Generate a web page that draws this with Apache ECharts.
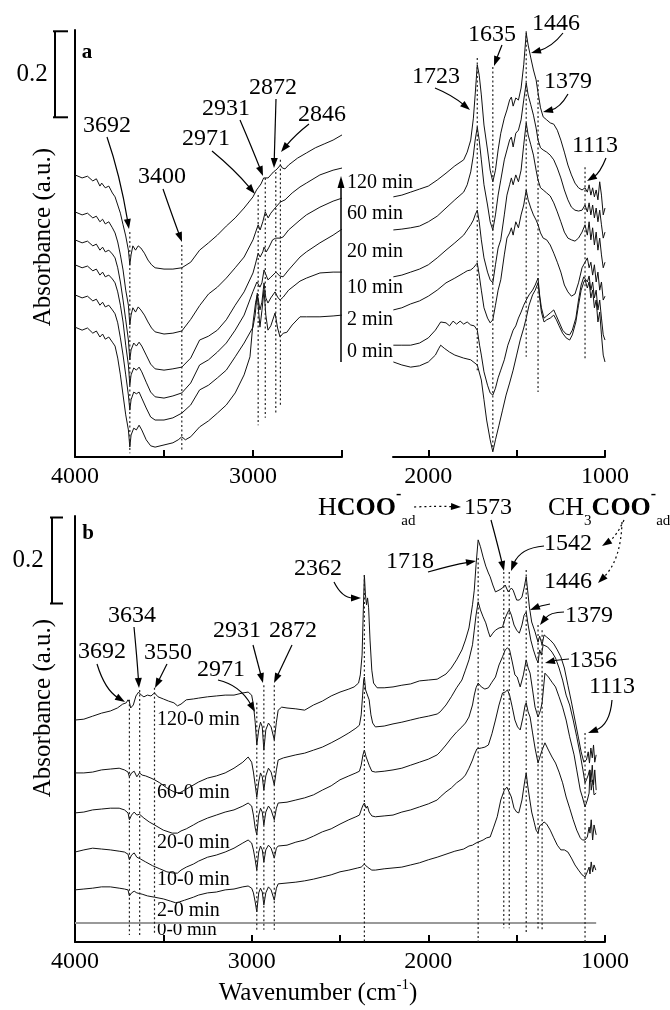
<!DOCTYPE html>
<html>
<head>
<meta charset="utf-8">
<script src="https://cdn.jsdelivr.net/npm/echarts@6/dist/echarts.min.js"></script>
<style>
  html, body { margin: 0; padding: 0; background: #fff; }
  #main { width: 670px; height: 1010px; }
</style>
</head>
<body>
<div id="main"></div>
<script>
// ---- spectra, panel a (absorbance) ----
// left part 4000-2500 cm-1
var aL120 = [[4000,.656],[3960,.649],[3930,.653],[3900,.642],[3880,.647],[3860,.630],[3850,.637],[3830,.626],[3810,.630],[3790,.614],[3775,.605],[3760,.586],[3745,.567],[3730,.540],[3715,.514],[3700,.481],[3692,.447],[3685,.470],[3675,.491],[3660,.481],[3645,.491],[3630,.486],[3610,.474],[3590,.458],[3570,.447],[3550,.440],[3500,.437],[3450,.437],[3400,.440],[3350,.453],[3300,.481],[3250,.498],[3200,.516],[3150,.537],[3100,.556],[3050,.579],[3000,.605],[2980,.621],[2971,.626],[2955,.635],[2940,.649],[2931,.651],[2915,.649],[2900,.656],[2885,.663],[2872,.667],[2860,.672],[2846,.679],[2835,.672],[2820,.670],[2800,.679],[2750,.695],[2700,.707],[2650,.719],[2600,.728],[2550,.737],[2500,.749]];
var aL60 = [[4000,.570],[3960,.563],[3930,.567],[3900,.556],[3880,.560],[3860,.547],[3845,.553],[3830,.542],[3810,.547],[3790,.533],[3775,.521],[3760,.500],[3745,.470],[3730,.435],[3715,.388],[3700,.353],[3692,.307],[3685,.330],[3675,.347],[3660,.337],[3645,.349],[3630,.342],[3610,.330],[3590,.314],[3570,.300],[3550,.291],[3500,.286],[3450,.288],[3400,.293],[3350,.320],[3300,.352],[3250,.379],[3200,.395],[3150,.416],[3100,.440],[3050,.465],[3000,.505],[2985,.523],[2971,.540],[2960,.528],[2945,.547],[2931,.570],[2915,.556],[2900,.567],[2872,.581],[2846,.593],[2820,.598],[2780,.614],[2736,.628],[2700,.637],[2624,.656],[2550,.667],[2500,.672]];
var aL20 = [[4000,.505],[3960,.498],[3930,.502],[3900,.491],[3880,.495],[3860,.481],[3845,.488],[3830,.477],[3810,.481],[3790,.472],[3775,.463],[3760,.440],[3745,.407],[3730,.365],[3715,.319],[3700,.272],[3692,.226],[3685,.249],[3670,.265],[3655,.258],[3640,.267],[3625,.258],[3600,.237],[3575,.216],[3550,.205],[3500,.202],[3450,.205],[3400,.209],[3350,.230],[3300,.272],[3250,.281],[3200,.295],[3150,.319],[3100,.353],[3050,.384],[3000,.428],[2985,.451],[2971,.474],[2960,.465],[2945,.477],[2938,.488],[2925,.477],[2910,.488],[2890,.505],[2872,.509],[2846,.509],[2830,.512],[2800,.528],[2736,.551],[2700,.563],[2624,.581],[2550,.595],[2500,.602]];
var aL10 = [[4000,.447],[3960,.440],[3930,.444],[3900,.433],[3880,.437],[3860,.423],[3845,.430],[3830,.419],[3810,.423],[3790,.414],[3775,.405],[3760,.384],[3745,.353],[3730,.314],[3715,.260],[3700,.214],[3692,.167],[3685,.191],[3670,.207],[3655,.202],[3640,.209],[3625,.198],[3600,.174],[3575,.151],[3550,.140],[3500,.137],[3450,.142],[3400,.149],[3350,.172],[3300,.214],[3250,.226],[3200,.244],[3150,.265],[3100,.295],[3050,.330],[3000,.385],[2978,.407],[2961,.395],[2950,.405],[2938,.435],[2916,.412],[2900,.418],[2871,.430],[2850,.421],[2831,.419],[2800,.435],[2736,.465],[2700,.477],[2624,.498],[2550,.516],[2500,.530]];
var aL2 = [[4000,.377],[3960,.370],[3930,.374],[3900,.363],[3880,.367],[3860,.353],[3845,.360],[3830,.349],[3810,.353],[3790,.342],[3775,.333],[3760,.312],[3745,.277],[3730,.237],[3715,.191],[3700,.144],[3692,.109],[3685,.133],[3670,.151],[3655,.147],[3640,.151],[3625,.137],[3600,.114],[3575,.093],[3550,.086],[3500,.086],[3450,.091],[3400,.102],[3350,.121],[3300,.156],[3250,.167],[3200,.184],[3150,.202],[3100,.233],[3050,.265],[3000,.302],[2988,.330],[2976,.381],[2961,.342],[2950,.360],[2938,.405],[2928,.370],[2916,.358],[2900,.370],[2876,.384],[2862,.372],[2848,.365],[2830,.372],[2800,.388],[2736,.409],[2700,.416],[2624,.428],[2550,.430],[2500,.430]];
var aL0 = [[4000,.302],[3960,.295],[3930,.300],[3900,.288],[3880,.293],[3860,.279],[3845,.286],[3830,.274],[3810,.279],[3790,.267],[3775,.258],[3760,.230],[3745,.191],[3730,.144],[3715,.098],[3700,.063],[3692,.023],[3685,.051],[3670,.067],[3655,.063],[3640,.074],[3625,.063],[3600,.040],[3575,.026],[3550,.023],[3500,.028],[3450,.033],[3420,.040],[3400,.047],[3380,.040],[3350,.047],[3300,.070],[3250,.084],[3200,.102],[3150,.121],[3100,.149],[3050,.191],[3017,.233],[3000,.312],[2985,.360],[2976,.377],[2961,.302],[2950,.340],[2938,.388],[2928,.330],[2916,.295],[2900,.305],[2876,.335],[2862,.300],[2848,.279],[2830,.288],[2810,.290],[2780,.307],[2736,.326],[2700,.326],[2624,.326],[2550,.328],[2500,.330]];
// right part 2200-1000 cm-1
var aR120 = [[2198,.605],[2150,.609],[2100,.616],[2050,.623],[2000,.630],[1950,.644],[1900,.660],[1850,.677],[1800,.691],[1780,.709],[1760,.737],[1745,.788],[1735,.842],[1723,.912],[1712,.888],[1700,.842],[1685,.772],[1665,.714],[1650,.667],[1635,.640],[1620,.667],[1605,.714],[1590,.753],[1570,.788],[1555,.807],[1540,.830],[1530,.837],[1520,.816],[1505,.835],[1490,.830],[1475,.858],[1460,.912],[1446,.986],[1435,.958],[1420,.928],[1405,.900],[1390,.877],[1379,.847],[1365,.812],[1350,.791],[1330,.784],[1310,.777],[1290,.774],[1270,.760],[1250,.737],[1230,.709],[1210,.679],[1190,.656],[1170,.637],[1150,.626],[1130,.621],[1113,.626],[1100,.616],[1090,.633],[1080,.609],[1070,.626],[1060,.605],[1050,.621],[1040,.598],[1030,.640],[1020,.609],[1010,.563],[1000,.579]];
var aR60 = [[2198,.528],[2150,.530],[2100,.533],[2050,.537],[2000,.547],[1950,.560],[1900,.579],[1850,.598],[1800,.616],[1780,.633],[1760,.663],[1745,.702],[1735,.737],[1723,.767],[1712,.737],[1700,.691],[1685,.633],[1665,.586],[1650,.547],[1635,.528],[1620,.563],[1605,.609],[1590,.644],[1570,.691],[1555,.714],[1540,.737],[1530,.744],[1520,.721],[1505,.753],[1490,.760],[1475,.784],[1460,.830],[1446,.870],[1435,.842],[1420,.819],[1405,.795],[1390,.765],[1379,.737],[1365,.719],[1350,.714],[1330,.709],[1310,.702],[1290,.691],[1270,.672],[1250,.649],[1230,.621],[1210,.598],[1190,.581],[1170,.574],[1150,.572],[1130,.574],[1113,.586],[1100,.570],[1090,.591],[1080,.563],[1070,.586],[1060,.556],[1050,.579],[1040,.547],[1030,.574],[1020,.540],[1010,.509],[1000,.523]];
var aR20 = [[2198,.419],[2150,.423],[2100,.430],[2050,.437],[2000,.447],[1950,.463],[1900,.481],[1850,.498],[1800,.516],[1780,.528],[1760,.540],[1745,.551],[1735,.563],[1723,.574],[1712,.547],[1700,.505],[1685,.463],[1665,.430],[1650,.412],[1635,.405],[1620,.447],[1605,.486],[1590,.505],[1570,.563],[1555,.609],[1540,.633],[1530,.649],[1520,.633],[1505,.656],[1490,.640],[1475,.667],[1460,.726],[1446,.777],[1435,.749],[1420,.726],[1405,.702],[1390,.667],[1379,.644],[1365,.626],[1350,.621],[1330,.614],[1310,.607],[1290,.591],[1270,.570],[1250,.547],[1230,.523],[1210,.509],[1190,.505],[1170,.502],[1150,.509],[1130,.523],[1113,.540],[1100,.516],[1090,.547],[1080,.505],[1070,.533],[1060,.493],[1050,.523],[1040,.481],[1030,.509],[1020,.470],[1010,.440],[1000,.453]];
var aR10 = [[2198,.342],[2150,.347],[2100,.356],[2050,.363],[2000,.374],[1950,.388],[1900,.405],[1850,.416],[1800,.428],[1780,.433],[1760,.435],[1745,.440],[1735,.444],[1723,.451],[1712,.423],[1700,.388],[1685,.347],[1665,.323],[1650,.312],[1635,.319],[1620,.353],[1605,.388],[1590,.412],[1570,.470],[1555,.509],[1540,.521],[1530,.533],[1520,.516],[1505,.547],[1490,.533],[1475,.563],[1460,.586],[1446,.621],[1435,.598],[1420,.579],[1405,.563],[1390,.551],[1379,.540],[1365,.521],[1350,.509],[1330,.505],[1310,.493],[1290,.474],[1270,.453],[1250,.430],[1230,.400],[1210,.384],[1190,.374],[1170,.379],[1150,.405],[1130,.440],[1113,.453],[1100,.463],[1090,.440],[1080,.453],[1070,.423],[1060,.447],[1050,.407],[1040,.430],[1030,.388],[1020,.407],[1010,.365],[1000,.374]];
var aR2 = [[2198,.260],[2150,.260],[2100,.260],[2050,.265],[2000,.277],[1960,.295],[1930,.314],[1900,.312],[1880,.305],[1860,.316],[1840,.309],[1820,.316],[1800,.309],[1780,.314],[1760,.307],[1740,.305],[1723,.295],[1710,.260],[1700,.237],[1685,.198],[1665,.167],[1650,.149],[1635,.144],[1620,.160],[1605,.184],[1590,.202],[1570,.226],[1550,.260],[1535,.277],[1520,.295],[1505,.305],[1490,.323],[1475,.337],[1460,.353],[1446,.365],[1430,.377],[1410,.388],[1395,.400],[1379,.416],[1370,.377],[1360,.347],[1345,.323],[1330,.328],[1310,.335],[1290,.342],[1275,.328],[1260,.314],[1240,.295],[1220,.286],[1200,.284],[1185,.295],[1165,.323],[1150,.365],[1135,.400],[1120,.419],[1113,.423],[1100,.407],[1090,.421],[1080,.388],[1070,.407],[1060,.370],[1050,.388],[1040,.342],[1030,.365],[1020,.323],[1010,.284],[1000,.272]];
var aR0 = [[2198,.221],[2150,.214],[2100,.209],[2050,.212],[2000,.221],[1960,.237],[1940,.253],[1930,.260],[1910,.253],[1880,.244],[1850,.237],[1800,.230],[1760,.226],[1723,.214],[1700,.179],[1685,.133],[1670,.086],[1650,.040],[1635,.012],[1620,.040],[1600,.074],[1580,.109],[1560,.144],[1540,.172],[1520,.202],[1500,.237],[1480,.272],[1460,.300],[1446,.323],[1430,.353],[1410,.377],[1395,.388],[1379,.405],[1370,.370],[1360,.337],[1345,.314],[1330,.319],[1310,.323],[1290,.330],[1275,.319],[1260,.305],[1240,.288],[1220,.277],[1200,.272],[1185,.284],[1165,.314],[1150,.353],[1135,.388],[1120,.407],[1113,.412],[1100,.393],[1090,.407],[1080,.370],[1070,.388],[1060,.347],[1050,.365],[1040,.314],[1030,.337],[1020,.284],[1010,.237],[1000,.221]];

// ---- difference spectra, panel b ----
var b120 = [[4000,.472],[3950,.474],[3900,.481],[3850,.488],[3800,.493],[3760,.500],[3730,.509],[3710,.512],[3700,.519],[3692,.514],[3685,.500],[3670,.507],[3655,.528],[3640,.537],[3625,.530],[3610,.526],[3590,.530],[3570,.528],[3550,.535],[3530,.526],[3500,.521],[3470,.516],[3440,.512],[3420,.505],[3400,.509],[3370,.519],[3330,.521],[3300,.523],[3250,.526],[3200,.528],[3150,.530],[3100,.530],[3050,.535],[3020,.537],[3000,.530],[2990,.507],[2980,.467],[2971,.414],[2960,.449],[2950,.467],[2940,.456],[2931,.402],[2920,.449],[2905,.465],[2890,.456],[2872,.426],[2860,.467],[2850,.495],[2830,.502],[2800,.500],[2750,.498],[2700,.495],[2650,.507],[2600,.516],[2550,.528],[2500,.537],[2450,.544],[2420,.549],[2395,.558],[2385,.577],[2375,.623],[2368,.728],[2362,.809],[2356,.763],[2350,.740],[2344,.756],[2338,.733],[2330,.658],[2320,.588],[2310,.558],[2290,.547],[2250,.547],[2200,.549],[2150,.553],[2100,.556],[2050,.563],[2000,.565],[1950,.567],[1900,.579],[1870,.593],[1840,.612],[1810,.635],[1790,.658],[1770,.686],[1750,.740],[1740,.774],[1730,.833],[1718,.891],[1705,.875],[1690,.851],[1675,.830],[1660,.814],[1650,.805],[1635,.786],[1620,.770],[1600,.774],[1580,.779],[1565,.786],[1548,.770],[1530,.779],[1520,.774],[1500,.751],[1485,.751],[1470,.758],[1458,.779],[1446,.805],[1438,.774],[1428,.735],[1415,.700],[1396,.677],[1379,.653],[1370,.667],[1356,.647],[1345,.670],[1330,.665],[1310,.658],[1290,.649],[1270,.635],[1250,.619],[1230,.593],[1210,.553],[1190,.514],[1170,.472],[1150,.430],[1135,.398],[1120,.374],[1113,.370],[1105,.379],[1095,.398],[1088,.372],[1080,.407],[1072,.384],[1065,.414],[1058,.374],[1050,.391]];
var b60 = [[4000,.349],[3950,.349],[3900,.351],[3850,.356],[3800,.358],[3750,.360],[3720,.356],[3700,.351],[3692,.340],[3680,.349],[3665,.353],[3650,.340],[3635,.349],[3620,.344],[3600,.342],[3570,.337],[3550,.333],[3520,.326],[3480,.314],[3440,.305],[3410,.302],[3380,.309],[3350,.316],[3300,.328],[3250,.337],[3200,.342],[3150,.349],[3100,.360],[3050,.374],[3020,.386],[3000,.374],[2990,.351],[2980,.321],[2971,.293],[2960,.328],[2950,.349],[2940,.340],[2931,.309],[2920,.342],[2905,.360],[2890,.351],[2872,.321],[2860,.356],[2850,.379],[2820,.384],[2800,.386],[2750,.391],[2700,.395],[2650,.402],[2600,.409],[2550,.419],[2500,.430],[2450,.442],[2410,.453],[2390,.460],[2380,.484],[2372,.530],[2366,.565],[2362,.572],[2355,.542],[2345,.542],[2335,.519],[2325,.484],[2315,.465],[2300,.456],[2250,.458],[2200,.463],[2150,.467],[2100,.472],[2050,.477],[2000,.481],[1950,.486],[1933,.491],[1900,.507],[1870,.526],[1840,.547],[1810,.565],[1790,.588],[1770,.612],[1750,.647],[1740,.681],[1730,.716],[1718,.747],[1705,.728],[1690,.712],[1675,.698],[1660,.677],[1650,.665],[1635,.674],[1620,.681],[1600,.686],[1580,.688],[1565,.709],[1550,.723],[1542,.728],[1530,.716],[1515,.693],[1500,.681],[1485,.674],[1470,.693],[1458,.716],[1446,.723],[1435,.693],[1420,.658],[1405,.635],[1390,.616],[1379,.605],[1370,.635],[1360,.623],[1350,.647],[1340,.651],[1325,.642],[1300,.630],[1280,.616],[1260,.593],[1240,.565],[1220,.530],[1200,.507],[1180,.472],[1160,.433],[1140,.391],[1125,.356],[1113,.326],[1105,.333],[1095,.344],[1088,.356],[1080,.328],[1072,.367],[1065,.321],[1058,.356],[1050,.309]];
var b20 = [[4000,.256],[3950,.258],[3900,.263],[3850,.265],[3800,.267],[3750,.267],[3720,.263],[3700,.256],[3692,.240],[3680,.251],[3665,.258],[3650,.251],[3635,.253],[3610,.244],[3580,.235],[3550,.228],[3500,.216],[3450,.209],[3420,.209],[3400,.214],[3370,.219],[3330,.228],[3300,.235],[3250,.244],[3200,.251],[3150,.258],[3100,.263],[3050,.272],[3020,.279],[3000,.272],[2990,.251],[2980,.221],[2971,.205],[2960,.251],[2950,.267],[2940,.258],[2931,.228],[2920,.258],[2905,.272],[2890,.263],[2872,.240],[2860,.267],[2850,.279],[2800,.281],[2750,.286],[2700,.291],[2650,.298],[2600,.309],[2550,.319],[2500,.333],[2450,.342],[2410,.349],[2390,.353],[2380,.367],[2370,.391],[2362,.402],[2352,.386],[2345,.386],[2335,.367],[2320,.353],[2300,.351],[2250,.353],[2200,.356],[2150,.360],[2100,.367],[2050,.374],[2000,.381],[1950,.391],[1933,.398],[1900,.414],[1870,.430],[1840,.444],[1810,.456],[1790,.465],[1770,.479],[1750,.507],[1740,.530],[1730,.547],[1718,.558],[1700,.549],[1680,.544],[1660,.547],[1640,.560],[1620,.572],[1600,.600],[1580,.619],[1565,.635],[1552,.640],[1540,.635],[1525,.607],[1510,.577],[1497,.572],[1480,.549],[1462,.577],[1446,.612],[1435,.593],[1424,.581],[1410,.542],[1396,.502],[1379,.479],[1365,.495],[1356,.512],[1340,.581],[1320,.572],[1300,.560],[1280,.549],[1260,.526],[1240,.502],[1220,.472],[1200,.433],[1175,.391],[1160,.356],[1140,.309],[1128,.293],[1113,.270],[1100,.286],[1090,.302],[1085,.356],[1078,.309],[1070,.333],[1062,.298],[1050,.302]];
var b10 = [[4000,.165],[3950,.170],[3900,.174],[3850,.172],[3800,.170],[3750,.167],[3720,.165],[3700,.160],[3692,.147],[3680,.158],[3665,.163],[3650,.153],[3630,.149],[3600,.142],[3560,.133],[3520,.126],[3480,.119],[3440,.116],[3420,.116],[3400,.123],[3370,.130],[3330,.137],[3300,.144],[3250,.153],[3200,.158],[3150,.165],[3100,.174],[3050,.186],[3020,.193],[3000,.186],[2990,.170],[2980,.147],[2971,.123],[2960,.165],[2950,.179],[2940,.170],[2931,.142],[2920,.170],[2905,.181],[2890,.174],[2872,.151],[2860,.174],[2850,.179],[2800,.181],[2750,.188],[2700,.193],[2650,.202],[2600,.212],[2550,.219],[2500,.230],[2450,.240],[2410,.247],[2390,.251],[2380,.263],[2370,.274],[2362,.279],[2352,.267],[2345,.272],[2335,.258],[2320,.249],[2300,.247],[2250,.249],[2200,.251],[2150,.258],[2100,.263],[2050,.270],[2000,.277],[1950,.286],[1933,.293],[1900,.305],[1870,.314],[1840,.326],[1810,.335],[1790,.344],[1770,.360],[1750,.379],[1740,.391],[1725,.405],[1718,.407],[1700,.407],[1680,.409],[1660,.414],[1640,.440],[1620,.472],[1600,.507],[1580,.535],[1565,.537],[1552,.542],[1540,.530],[1525,.502],[1510,.472],[1495,.456],[1480,.449],[1465,.477],[1452,.507],[1446,.512],[1435,.491],[1424,.479],[1410,.442],[1396,.407],[1379,.372],[1365,.391],[1356,.402],[1340,.419],[1320,.402],[1300,.386],[1280,.372],[1260,.351],[1240,.326],[1220,.293],[1200,.267],[1180,.240],[1160,.216],[1140,.198],[1128,.193],[1113,.193],[1100,.200],[1090,.223],[1085,.209],[1078,.240],[1070,.193],[1062,.228],[1050,.205]];
var b2 = [[4000,.077],[3950,.079],[3900,.081],[3850,.084],[3800,.084],[3750,.081],[3720,.079],[3700,.077],[3692,.063],[3680,.070],[3665,.074],[3650,.070],[3620,.067],[3590,.063],[3550,.060],[3500,.056],[3460,.051],[3430,.047],[3410,.049],[3380,.053],[3330,.060],[3300,.065],[3250,.070],[3200,.072],[3150,.077],[3100,.079],[3050,.084],[3020,.086],[3000,.081],[2990,.070],[2980,.049],[2971,.026],[2960,.070],[2950,.081],[2940,.072],[2931,.042],[2920,.070],[2905,.084],[2890,.077],[2872,.053],[2860,.081],[2850,.091],[2800,.093],[2750,.095],[2700,.098],[2650,.102],[2600,.107],[2550,.112],[2500,.119],[2450,.123],[2400,.128],[2380,.130],[2370,.133],[2362,.137],[2355,.133],[2345,.130],[2335,.126],[2320,.123],[2300,.123],[2250,.126],[2200,.128],[2150,.130],[2100,.135],[2050,.140],[2000,.147],[1950,.153],[1900,.160],[1850,.167],[1800,.172],[1770,.179],[1750,.181],[1730,.186],[1718,.188],[1710,.186],[1690,.193],[1670,.198],[1650,.200],[1630,.223],[1610,.247],[1590,.286],[1570,.309],[1555,.316],[1545,.314],[1530,.293],[1515,.267],[1500,.258],[1488,.256],[1470,.286],[1455,.328],[1446,.349],[1438,.321],[1428,.293],[1415,.258],[1400,.233],[1390,.216],[1379,.209],[1370,.226],[1356,.230],[1345,.235],[1330,.230],[1310,.216],[1290,.198],[1270,.181],[1250,.170],[1230,.170],[1210,.165],[1190,.151],[1170,.135],[1150,.123],[1130,.112],[1113,.107],[1100,.119],[1090,.130],[1085,.114],[1078,.142],[1070,.119],[1062,.135],[1052,.123]];
var b0 = [[4000,0],[1050,0]];

// tick labels
var ticksAL = [2500, 3000, 3500], labelsAL = [3000, 4000];
var ticksAR = [1000, 1500, 2000], labelsAR = [1000, 2000];
var ticksB = [1000, 1500, 2000, 2500, 3000, 3500], labelsB = [1000, 2000, 3000, 4000];

// peak marker lines: [wavenumber, top, bottom] in absorbance
var peaksAL = [[3692,.523,.009],[3400,.493,.016],[2971,.609,.074],[2931,.649,.091],[2872,.663,.102],[2846,.691,.121]];
var peaksAR = [[1723,.928,.202],[1635,.907,.016],[1446,.99,.233],[1379,.877,.151],[1113,.674,.226]];
var peaksB = [[3692,.519,-.028],[3634,.542,-.028],[3550,.547,-.028],[2971,.512,-.021],[2931,.553,-.016],[2872,.553,-.016],[2362,.809,-.044],[1718,.849,-.044],[1573,.816,-.012],[1542,.816,-.012],[1446,.821,-.021],[1379,.693,-.016],[1356,.681,-.016],[1113,.442,-.044]];

var SERIF = 'Liberation Serif';
var chart = echarts.init(document.getElementById('main'));

function curve(data, gi) {
  return { type: 'line', xAxisIndex: gi, yAxisIndex: gi, data: data, symbol: 'none',
    lineStyle: { color: '#111', width: 1 }, silent: true };
}
function peakLine(p, gi) {
  return { type: 'line', xAxisIndex: gi, yAxisIndex: gi, data: [[p[0], p[1]], [p[0], p[2]]],
    symbol: 'none', clip: false, silent: true,
    lineStyle: { color: '#222', width: 1.2, type: [2, 2.5] } };
}
function xAx(gi, min, max, ticks, labels) {
  return {
    type: 'value', gridIndex: gi, min: min, max: max, inverse: true,
    axisLine: { onZero: false, lineStyle: { color: '#000', width: 2 } },
    axisTick: { inside: true, length: 7, customValues: ticks, lineStyle: { color: '#000', width: 2 } },
    axisLabel: { customValues: labels, color: '#000', fontFamily: SERIF, fontSize: 24, margin: 8,
      formatter: function (v) { return String(v); } },
    splitLine: { show: false }
  };
}
function yAx(gi, min, max, showLine) {
  return {
    type: 'value', gridIndex: gi, min: min, max: max,
    axisLine: { show: showLine, onZero: false, lineStyle: { color: '#000', width: 2 } },
    axisTick: { show: false }, axisLabel: { show: false }, splitLine: { show: false }
  };
}

var series = [];
[aL120, aL60, aL20, aL10, aL2, aL0].forEach(function (d) { series.push(curve(d, 0)); });
[aR120, aR60, aR20, aR10, aR2, aR0].forEach(function (d) { series.push(curve(d, 1)); });
[b120, b60, b20, b10, b2].forEach(function (d) { series.push(curve(d, 2)); });
series.push({ type: 'line', xAxisIndex: 2, yAxisIndex: 2, data: b0, symbol: 'none',
  lineStyle: { color: '#999', width: 2 }, silent: true });
peaksAL.forEach(function (p) { series.push(peakLine(p, 0)); });
peaksAR.forEach(function (p) { series.push(peakLine(p, 1)); });
peaksB.forEach(function (p) { series.push(peakLine(p, 2)); });

chart.setOption({
  animation: false,
  backgroundColor: '#fff',
  grid: [
    { left: 75, top: 30, width: 267, height: 427 },
    { left: 393, top: 30, width: 212, height: 427 },
    { left: 75, top: 516, width: 530, height: 426 }
  ],
  xAxis: [
    xAx(0, 2500, 4000, ticksAL, labelsAL),
    xAx(1, 1000, 2200, ticksAR, labelsAR),
    xAx(2, 1000, 4000, ticksB, labelsB)
  ],
  yAxis: [
    yAx(0, 0, 0.993, true),
    yAx(1, 0, 0.993, false),
    yAx(2, -0.0442, 0.9465, true)
  ],
  series: series
});

// ---- annotations ----
function py(gi, a) { return chart.convertToPixel({ gridIndex: gi }, [gi === 1 ? 1500 : 3000, a])[1]; }
function txt(x, y, s, size, extra) {
  var st = { text: s, fontSize: size, fontFamily: SERIF, fill: '#000', align: 'center', verticalAlign: 'middle' };
  for (var k in extra) st[k] = extra[k];
  return { type: 'text', x: x, y: y, style: st, silent: true };
}
function seg(x1, y1, x2, y2, w) {
  return { type: 'line', shape: { x1: x1, y1: y1, x2: x2, y2: y2 }, style: { stroke: '#000', lineWidth: w || 2 }, silent: true };
}
function arrow(a, dotted) {
  var x1 = a[0], y1 = a[1], cx = a[2], cy = a[3], x2 = a[4], y2 = a[5];
  var dx = x2 - cx, dy = y2 - cy, L = Math.sqrt(dx * dx + dy * dy) || 1;
  dx /= L; dy /= L;
  var hl = 10, hw = 3.5, bx = x2 - dx * hl, by = y2 - dy * hl;
  return [
    { type: 'bezierCurve', shape: { x1: x1, y1: y1, cpx1: cx, cpy1: cy, x2: bx + dx * 2, y2: by + dy * 2 },
      style: { stroke: '#000', fill: null, lineWidth: 1.2, lineDash: dotted ? [2, 3] : null }, silent: true },
    { type: 'polygon', shape: { points: [[x2, y2], [bx - dy * hw, by + dx * hw], [bx + dy * hw, by - dx * hw]] },
      style: { fill: '#000' }, silent: true }
  ];
}

var g = [];
// scale bars
var a1 = py(0, 0.99), a2 = py(0, 0.79);
g.push(seg(55, a1, 55, a2), seg(53, a1, 68, a1), seg(53, a2, 68, a2));
g.push(txt(32, (a1 + a2) / 2, '0.2', 25));
var b1 = py(2, 0.943), bb = py(2, 0.743);
g.push(seg(52, b1, 52, bb), seg(50, b1, 63, b1), seg(50, bb, 63, bb));
g.push(txt(28, (b1 + bb) / 2, '0.2', 25));

// axis titles
g.push(txt(43, 237, 'Absorbance (a.u.)', 25, { }));
g[g.length - 1].rotation = Math.PI / 2;
g.push(txt(43, 708, 'Absorbance (a.u.)', 25, { }));
g[g.length - 1].rotation = Math.PI / 2;
g.push({ type: 'text', x: 318, y: 993, silent: true, style: {
  text: '{a|Wavenumber (cm}{s|-1}{a|)}', align: 'center', verticalAlign: 'middle',
  rich: { a: { fontSize: 25, fontFamily: SERIF, fill: '#000', lineHeight: 30 },
          s: { fontSize: 15, fontFamily: SERIF, fill: '#000', verticalAlign: 'top' } } } });

g.push(txt(87, 53, 'a', 21, { fontWeight: 'bold' }));
g.push(txt(88, 534, 'b', 21, { fontWeight: 'bold' }));

// panel a peak labels + arrows
var labA = [['3692',107,126],['3400',162,177],['2971',206,139],['2931',226,109],['2872',273,88],['2846',322,115],
            ['1723',436,77],['1635',492,35],['1446',556,24],['1379',568,82],['1113',595,146]];
var arrA = [[107,137,120,175,129,229],[163,189,172,215,182,242],[212,151,235,170,255,194],[240,120,252,148,263,176],
            [276,99,275,135,274,168],[309,124,295,135,281,152],[435,88,452,95,470,110],[502,45,498,55,494,66],
            [563,33,552,47,531,53],[568,94,560,108,543,112],[606,158,600,173,587,181]];
labA.forEach(function (l) { g.push(txt(l[1], l[2], l[0], 24)); });
arrA.forEach(function (a) { g = g.concat(arrow(a)); });

// time arrow and labels
g.push(seg(341, 362, 341, 186, 1.5));
g.push({ type: 'polygon', shape: { points: [[341, 176], [337.5, 188], [344.5, 188]] }, style: { fill: '#000' }, silent: true });
[['120 min',183],['60 min',214],['20 min',252],['10 min',288],['2 min',320],['0 min',352]].forEach(function (l) {
  g.push(txt(347, l[1], l[0], 20, { align: 'left' }));
});

// panel b peak labels + arrows
var labB = [['3692',102,652],['3634',132,616],['3550',168,653],['2971',221,670],['2931',237,631],['2872',293,631],
            ['2362',318,569],['1573',488,508],['1718',410,562],['1542',568,544],['1446',568,582],['1379',589,616],
            ['1356',593,661],['1113',612,687]];
var arrB = [[97,664,105,690,125,702],[134,627,137,658,139,688],[167,664,161,676,155,688],[218,680,240,685,255,712],
            [253,645,258,664,263,683],[292,645,283,664,274,683],[334,582,342,598,361,598],[428,572,452,565,476,561],
            [491,520,498,546,504,571],[544,546,520,548,511,571],[550,604,540,606,530,610],[564,612,550,612,540,625],
            [569,659,557,660,545,663],[612,700,610,725,588,733]];
labB.forEach(function (l) { g.push(txt(l[1], l[2], l[0], 24)); });
arrB.forEach(function (a) { g = g.concat(arrow(a)); });
[[414,507,437,506,461,507],[624,520,616,537,602,546],[622,522,621,560,598,583]].forEach(function (a) {
  g = g.concat(arrow(a, true));
});

var richSpecies = {
  r: { fontSize: 26, fontFamily: SERIF, fill: '#000', lineHeight: 42 },
  b: { fontSize: 26, fontFamily: SERIF, fontWeight: 'bold', fill: '#000', lineHeight: 42 },
  sup: { fontSize: 16, fontFamily: SERIF, fontWeight: 'bold', fill: '#000', verticalAlign: 'top' },
  sub: { fontSize: 15, fontFamily: SERIF, fill: '#000', verticalAlign: 'bottom' }
};
g.push({ type: 'text', x: 318, y: 508, silent: true, style: {
  text: '{r|H}{b|COO}{sup|-}{sub|ad}', align: 'left', verticalAlign: 'middle', rich: richSpecies } });
g.push({ type: 'text', x: 548, y: 508, silent: true, style: {
  text: '{r|CH}{sub|3}{b|COO}{sup|-}{sub|ad}', align: 'left', verticalAlign: 'middle', rich: richSpecies } });

// curve labels panel b
[['120-0 min',720],['60-0 min',793],['20-0 min',843],['10-0 min',880],['2-0 min',911],['0-0 min',930]].forEach(function (l) {
  g.push(txt(157, l[1], l[0], l[0] === '0-0 min' ? 19 : 20, { align: 'left' }));
});

chart.setOption({ graphic: g });
</script>
</body>
</html>
